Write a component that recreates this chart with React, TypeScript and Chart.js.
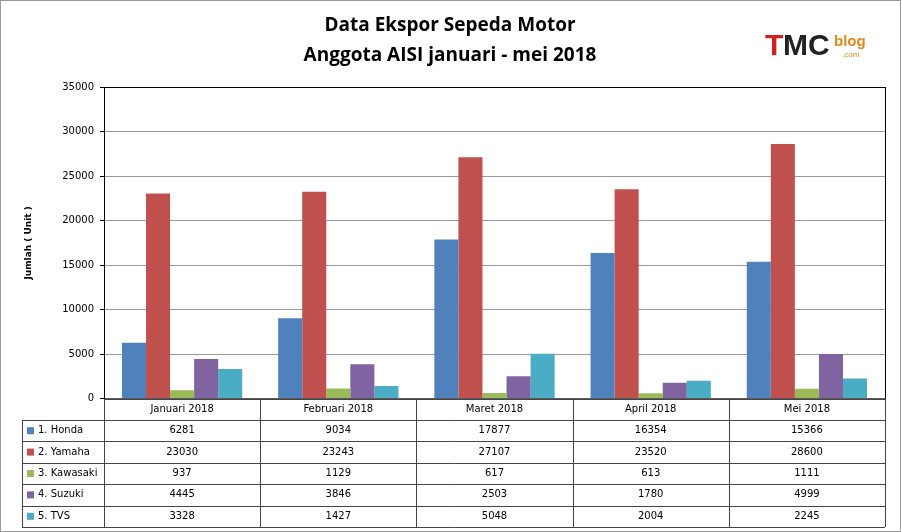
import React, { useEffect, useRef } from "react";
import { Chart, registerables } from "chart.js";
Chart.register(...registerables);

const categories = ["Januari 2018", "Februari 2018", "Maret 2018", "April 2018", "Mei 2018"];
const seriesNames = ["1. Honda", "2. Yamaha", "3. Kawasaki", "4. Suzuki", "5. TVS"];
const honda = [6281, 9034, 17877, 16354, 15366];
const yamaha = [23030, 23243, 27107, 23520, 28600];
const kawasaki = [937, 1129, 617, 613, 1111];
const suzuki = [4445, 3846, 2503, 1780, 4999];
const tvs = [3328, 1427, 5048, 2004, 2245];
const colors = ["#4F81BD", "#C0504D", "#9BBB59", "#8064A2", "#4BACC6"];
const FONT = "'DejaVu Sans', sans-serif";
const ROW = 21.4;

const tablePlugin = {
  id: "tbl",
  afterDraw(chart: any) {
    const ctx = chart.ctx;
    const a = chart.chartArea;
    const xs = chart.scales.x;
    const all = [honda, yamaha, kawasaki, suzuki, tvs];
    const step = (a.right - a.left) / categories.length;
    ctx.save();
    ctx.strokeStyle = "#999";
    ctx.strokeRect(0.5, 0.5, 900, 531);
    ctx.strokeStyle = "#000";
    ctx.lineWidth = 1;
    ctx.strokeRect(a.left + 0.5, a.top + 0.5, a.right - a.left, a.bottom - a.top);
    const tLeft = 22, top = a.bottom;
    ctx.strokeStyle = "#444";
    for (let r = 0; r <= 6; r++) {
      const y = Math.round(top + r * ROW) + 0.5;
      ctx.beginPath();
      ctx.moveTo(r === 0 ? a.left : tLeft, y);
      ctx.lineTo(a.right, y);
      ctx.stroke();
    }
    for (let c = 0; c <= categories.length; c++) {
      const x = Math.round(a.left + c * step) + 0.5;
      ctx.beginPath();
      ctx.moveTo(x, top);
      ctx.lineTo(x, top + 6 * ROW);
      ctx.stroke();
    }
    ctx.beginPath();
    ctx.moveTo(tLeft + 0.5, top + ROW);
    ctx.lineTo(tLeft + 0.5, top + 6 * ROW);
    ctx.stroke();
    ctx.fillStyle = "#000";
    ctx.font = "10px " + FONT;
    ctx.textAlign = "center";
    ctx.textBaseline = "middle";
    categories.forEach((c, i) => ctx.fillText(c, xs.getPixelForValue(i), top + ROW / 2));
    all.forEach((arr, r) => {
      const yc = top + (r + 1.5) * ROW;
      ctx.fillStyle = colors[r];
      ctx.fillRect(tLeft + 5, yc - 3.5, 7, 7);
      ctx.fillStyle = "#000";
      ctx.textAlign = "left";
      ctx.fillText(seriesNames[r], tLeft + 16, yc);
      ctx.textAlign = "center";
      arr.forEach((v, i) => ctx.fillText(String(v), xs.getPixelForValue(i), yc));
    });
    ctx.save();
    ctx.translate(29, (a.top + a.bottom) / 2);
    ctx.rotate(-Math.PI / 2);
    ctx.font = "bold 9px " + FONT;
    ctx.fillText("Jumlah ( Unit )", 0, 0);
    ctx.restore();
    ctx.font = "bold 19px 'Open Sans', " + FONT;
    ctx.fillText("Data Ekspor Sepeda Motor", 450, 26);
    ctx.fillText("Anggota AISI januari - mei 2018", 450, 56);
    ctx.textAlign = "left";
    ctx.font = "bold 30px 'Liberation Sans', sans-serif";
    ctx.fillStyle = "#d21f1f";
    ctx.fillText("T", 765, 47);
    ctx.fillStyle = "#222";
    ctx.fillText("MC", 783, 47);
    ctx.fillStyle = "#e08a1a";
    ctx.font = "bold 15px 'Liberation Sans', sans-serif";
    ctx.fillText("blog", 834, 42);
    ctx.font = "8px 'Liberation Sans', sans-serif";
    ctx.fillText(".com", 842, 55);
    ctx.restore();
  },
};

export default function App() {
  const ref = useRef<HTMLCanvasElement>(null);
  useEffect(() => {
    document.body.style.margin = "0";
    const data = [honda, yamaha, kawasaki, suzuki, tvs];
    const chart = new Chart(ref.current!, {
      type: "bar",
      data: {
        labels: categories,
        datasets: data.map((d, i) => ({
          label: seriesNames[i],
          data: d,
          backgroundColor: colors[i],
          categoryPercentage: 0.77,
          barPercentage: 1,
        })),
      },
      options: {
        animation: false,
        responsive: false,
        layout: { padding: { top: 87, right: 16, bottom: 5, left: 0 } },
        plugins: { legend: { display: false }, tooltip: { enabled: false } },
        scales: {
          x: {
            ticks: { display: false },
            grid: { display: false },
            border: { display: false },
            afterFit: (s: any) => { s.height = 6 * ROW; },
          },
          y: {
            min: 0,
            max: 35000,
            ticks: { stepSize: 5000, color: "#000", font: { family: FONT, size: 10 }, padding: 6, callback: (v: any) => String(v) },
            grid: { color: "#999", drawTicks: true, tickLength: 4, tickColor: "#000" },
            border: { color: "#000" },
            afterFit: (s: any) => { s.width = 104; },
          },
        },
      },
      plugins: [tablePlugin],
    });
    return () => chart.destroy();
  }, []);
  return <canvas ref={ref} width={901} height={532} style={{ display: "block" }} />;
}
